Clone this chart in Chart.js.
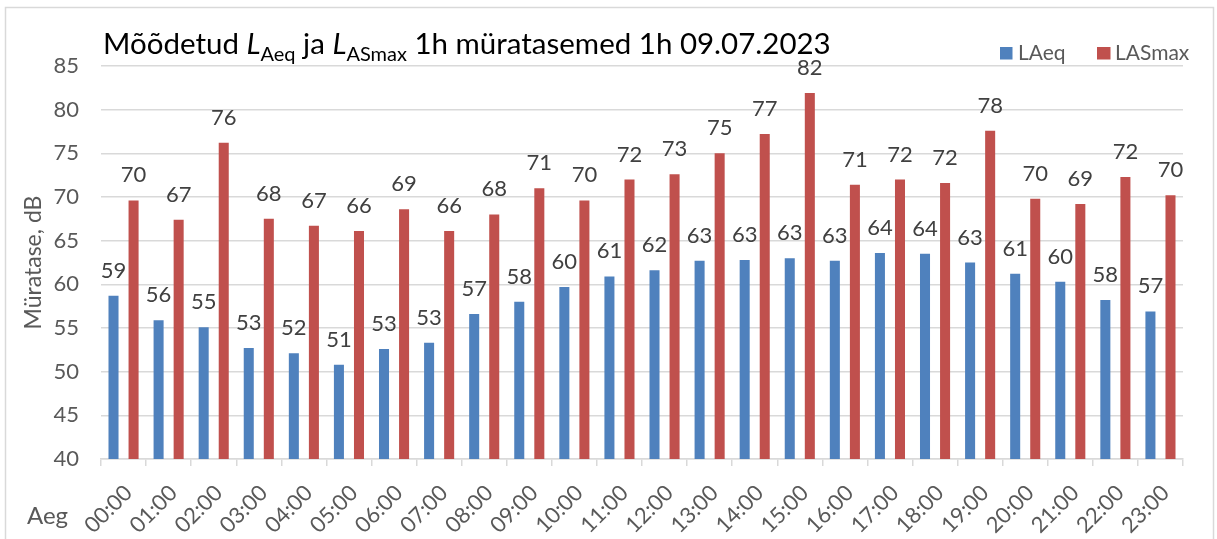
<!DOCTYPE html>
<html>
<head>
<meta charset="utf-8">
<script src="https://cdn.jsdelivr.net/npm/chart.js@4.4.0/dist/chart.umd.min.js"></script>
<style>
  body { margin: 0; background: #fff; }
  #wrap { width: 1217px; height: 539px; }
</style>
</head>
<body>
<div id="wrap"><canvas id="noiseChart" width="1217" height="539"></canvas></div>
<script>
const hours = ['00:00', '01:00', '02:00', '03:00', '04:00', '05:00', '06:00', '07:00',
    '08:00', '09:00', '10:00', '11:00', '12:00', '13:00', '14:00', '15:00',
    '16:00', '17:00', '18:00', '19:00', '20:00', '21:00', '22:00', '23:00'];
const laeq = [58.7, 55.9, 55.1, 52.7, 52.1, 50.8, 52.6, 53.3, 56.6, 58.0, 59.7, 60.9,
    61.6, 62.7, 62.8, 63.0, 62.7, 63.6, 63.5, 62.5, 61.2, 60.3, 58.2, 56.9];
const lasmax = [69.6, 67.4, 76.2, 67.5, 66.7, 66.1, 68.6, 66.1, 68.0, 71.0, 69.6, 72.0,
    72.6, 75.0, 77.2, 81.9, 71.4, 72.0, 71.6, 77.6, 69.8, 69.2, 72.3, 70.2];
const yTicks = [40, 45, 50, 55, 60, 65, 70, 75, 80, 85];

const FONT = 'Lato, "Open Sans", sans-serif';
const BLUE = '#4F81BD';
const RED = '#C0504D';
const GRID = '#D9D9D9';

// border, title, legend, "Aeg" and value labels are drawn by hand
const extras = {
    id: 'extras',
    beforeDraw(chart) {
        const c = chart.ctx;
        c.save();
        c.fillStyle = '#fff';
        c.fillRect(0, 0, chart.width, chart.height);
        c.strokeStyle = GRID;
        c.lineWidth = 1.5;
        c.strokeRect(5.5, 7.5, 1208, 540);
        c.restore();
    },
    afterDatasetsDraw(chart) {
        const c = chart.ctx;
        c.save();
        c.font = '22px ' + FONT;
        c.fillStyle = '#404040';
        c.textAlign = 'center';
        c.textBaseline = 'alphabetic';
        chart.data.datasets.forEach((ds, i) => {
            chart.getDatasetMeta(i).data.forEach((bar, j) => {
                c.fillText(Math.round(ds.data[j]), bar.x, bar.y - 18);
            });
        });
        c.restore();
    },
    afterDraw(chart) {
        const c = chart.ctx;
        c.save();
        // title with subscripts
        const parts = [
            ['Mõõdetud ', 'normal'],
            ['L', 'italic'], ['Aeq', 'sub'],
            [' ja ', 'normal'],
            ['L', 'italic'], ['ASmax', 'sub'],
            [' 1h müratasemed 1h 09.07.2023', 'normal']
        ];
        let x = 103;
        const base = 54;
        c.fillStyle = '#000';
        c.textBaseline = 'alphabetic';
        c.textAlign = 'left';
        parts.forEach(p => {
            if (p[1] === 'sub') {
                c.font = '20px ' + FONT;
                c.fillText(p[0], x, base + 7);
            } else if (p[1] === 'italic') {
                c.font = 'italic 29.5px ' + FONT;
                c.fillText(p[0], x, base);
            } else {
                c.font = '29.5px ' + FONT;
                c.fillText(p[0], x, base);
            }
            x += c.measureText(p[0]).width;
        });

        // legend
        c.font = '21px ' + FONT;
        c.fillStyle = BLUE;
        c.fillRect(1000, 47, 12.5, 12.5);
        c.fillStyle = RED;
        c.fillRect(1097, 47, 13.5, 12.5);
        c.fillStyle = '#595959';
        c.fillText('LAeq', 1018, 60);
        c.fillText('LASmax', 1115, 60);

        // x axis name
        c.font = '24px ' + FONT;
        c.fillText('Aeg', 27, 524);
        c.restore();
    }
};

const ctx = document.getElementById('noiseChart').getContext('2d');
const noiseChart = new Chart(ctx, {
    type: 'bar',
    data: {
        labels: hours,
        datasets: [
            { label: 'LAeq', data: laeq, backgroundColor: BLUE },
            { label: 'LASmax', data: lasmax, backgroundColor: RED }
        ]
    },
    options: {
        responsive: false,
        animation: false,
        categoryPercentage: 0.89,
        barPercentage: 0.5,
        layout: { padding: { top: 66, right: 34, left: 0, bottom: 0 } },
        plugins: {
            legend: { display: false },
            title: { display: false },
            tooltip: { enabled: false }
        },
        scales: {
            x: {
                grid: {
                    display: true,
                    drawOnChartArea: false,
                    drawTicks: true,
                    tickLength: 7,
                    color: GRID,
                    lineWidth: 1.5,
                    offset: true
                },
                border: { color: GRID, width: 1.5 },
                ticks: {
                    minRotation: 45,
                    maxRotation: 45,
                    padding: 14,
                    labelOffset: 5,
                    color: '#595959',
                    font: { family: FONT, size: 22 }
                },
                afterFit(scale) { scale.height = 80; }
            },
            y: {
                min: 40,
                max: 85,
                afterBuildTicks(scale) {
                    scale.ticks = yTicks.map(v => ({ value: v }));
                },
                grid: { color: GRID, lineWidth: 1.5, drawTicks: false },
                border: { display: false },
                ticks: {
                    padding: 22,
                    color: '#595959',
                    font: { family: FONT, size: 22 }
                },
                title: {
                    display: true,
                    text: 'Müratase, dB',
                    color: '#595959',
                    font: { family: FONT, size: 23 },
                    padding: { top: 20, bottom: 0 }
                },
                afterFit(scale) { scale.width = 101; }
            }
        }
    },
    plugins: [extras]
});
</script>
</body>
</html>
